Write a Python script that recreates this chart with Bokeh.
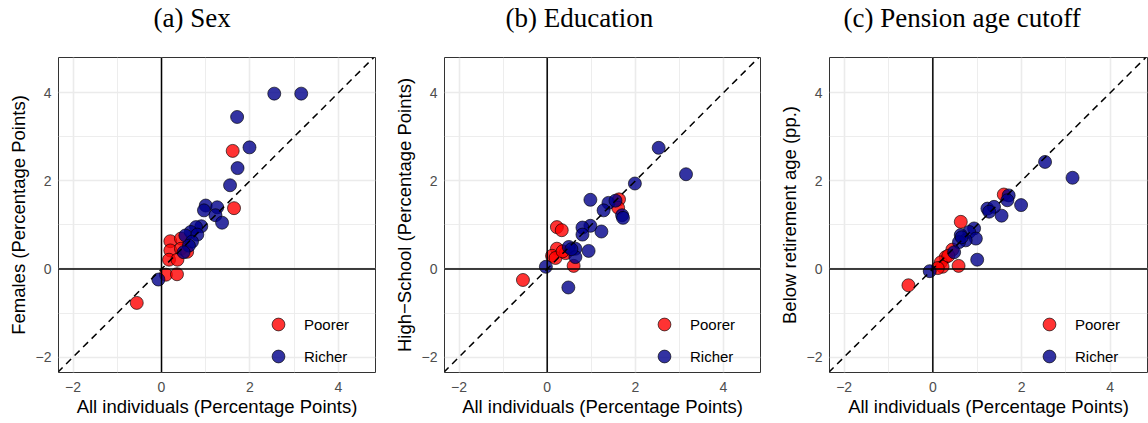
from bokeh.plotting import figure
from bokeh.layouts import row
from bokeh.models import (Span, Slope, Title, Legend, LegendItem, FixedTicker, Range1d)
from bokeh.embed import file_html
from bokeh.resources import INLINE

# ---------------- data ----------------
titles = ["(a) Sex", "(b) Education", "(c) Pension age cutoff"]
y_labels = ["Females (Percentage Points)", "High\u2212School (Percentage Points)", "Below retirement age (pp.)"]
x_label = "All individuals (Percentage Points)"
tick_values = [-2, 0, 2, 4]
tick_labels = ["\u22122", "0", "2", "4"]
minor_tick_values = [-1, 1, 3]
group_names = ["Poorer", "Richer"]

richer_a_x = [2.55, 3.16, 1.71, 1.99, 1.72, 1.55, 1.00, 1.26, 0.96, 1.22, 1.37, 0.90, 0.78, 0.66, 0.54, 0.81, 0.69, 0.62, 0.50, -0.07]
richer_a_y = [3.98, 3.98, 3.45, 2.76, 2.29, 1.90, 1.44, 1.40, 1.33, 1.22, 1.05, 0.97, 0.95, 0.84, 0.76, 0.78, 0.62, 0.53, 0.38, -0.24]
poorer_a_x = [1.61, 1.64, -0.56, 0.20, 0.44, 0.20, 0.44, 0.17, 0.36, 0.10, 0.35, 0.58]
poorer_a_y = [2.68, 1.38, -0.77, 0.63, 0.69, 0.42, 0.46, 0.21, 0.21, -0.13, -0.12, 0.39]

richer_b_x = [2.53, 3.15, 1.99, 0.98, 1.39, 1.55, 1.28, 1.70, 1.72, 1.23, 0.98, 0.80, 0.80, 0.94, 0.64, 0.49, 0.64, -0.03, 0.48, 0.55]
richer_b_y = [2.75, 2.15, 1.94, 1.57, 1.50, 1.55, 1.33, 1.22, 1.16, 0.85, 0.98, 0.94, 0.78, 0.41, 0.46, 0.50, 0.27, 0.05, -0.42, 0.45]
poorer_b_x = [1.63, 1.61, 0.22, 0.33, 0.22, 0.11, 0.19, 0.42, 0.60, -0.55, 0.35]
poorer_b_y = [1.58, 1.39, 0.95, 0.88, 0.46, 0.30, 0.25, 0.36, 0.07, -0.25, 0.40]

richer_c_x = [2.53, 3.15, 1.99, 1.55, 1.71, 1.68, 1.23, 1.38, 1.27, 0.93, 0.82, 0.97, 0.63, 0.74, 0.59, 0.48, 1.00, -0.07, 0.65]
richer_c_y = [2.43, 2.07, 1.45, 1.21, 1.67, 1.56, 1.37, 1.41, 1.30, 0.92, 0.84, 0.69, 0.77, 0.65, 0.61, 0.38, 0.21, -0.05, 0.72]
poorer_c_x = [1.60, 0.63, 0.44, 0.29, 0.18, 0.22, 0.11, 0.58, -0.55, 0.35]
poorer_c_y = [1.69, 1.07, 0.44, 0.27, 0.15, 0.05, 0.02, 0.07, -0.37, 0.30]

panels_data = [
    (poorer_a_x, poorer_a_y, richer_a_x, richer_a_y),
    (poorer_b_x, poorer_b_y, richer_b_x, richer_b_y),
    (poorer_c_x, poorer_c_y, richer_c_x, richer_c_y),
]

# ---------------- layout constants ----------------
layouts = [
    # fig width, left border, frame width, right border, title offset from frame left
    (383, 58, 317, 8, 95),
    (383, 61, 316, 6, 61),
    (382, 63, 318, 1, 14),
]
TOP, FRAME_H, BOTTOM = 57, 315, 51
X_RANGE = (-2.33, 4.84)
Y_RANGE = (-2.35, 4.80)
POORER_COLOR = "red"
RICHER_COLOR = "darkblue"

figs = []
for i, (lay, dat) in enumerate(zip(layouts, panels_data)):
    fw, left, frw, right, toff = lay
    px, py, rx, ry = dat
    p = figure(width=fw, height=TOP + FRAME_H + BOTTOM,
               frame_width=frw, frame_height=FRAME_H,
               min_border_left=left, min_border_right=right,
               min_border_top=TOP, min_border_bottom=BOTTOM,
               x_range=Range1d(*X_RANGE), y_range=Range1d(*Y_RANGE),
               output_backend="svg", toolbar_location=None,
               background_fill_color="white", border_fill_color="white")
    p.outline_line_color = "#333333"
    p.outline_line_width = 1

    ticker = FixedTicker(ticks=tick_values, minor_ticks=minor_tick_values)
    overrides = {v: lab for v, lab in zip(tick_values, tick_labels)}
    for ax in (p.xaxis[0], p.yaxis[0]):
        ax.ticker = ticker
        ax.major_label_overrides = overrides
        ax.axis_line_color = None
        ax.major_tick_line_color = None
        ax.minor_tick_line_color = None
        ax.major_tick_out = 0
        ax.major_tick_in = 0
        ax.minor_tick_out = 0
        ax.minor_tick_in = 0
        ax.major_label_text_color = "#4D4D4D"
        ax.major_label_text_font = "Liberation Sans"
        ax.major_label_text_font_size = "14px"
        ax.axis_label_text_font = "Liberation Sans"
        ax.axis_label_text_font_size = "18.5px"
        ax.axis_label_text_font_style = "normal"
        ax.axis_label_text_color = "black"
    p.xaxis[0].axis_label = x_label
    p.yaxis[0].axis_label = y_labels[i]
    p.xaxis[0].major_label_standoff = 9
    p.yaxis[0].major_label_standoff = 7
    p.xaxis[0].axis_label_standoff = 1
    p.yaxis[0].axis_label_standoff = 4

    for g in (p.xgrid[0], p.ygrid[0]):
        g.ticker = ticker
        g.grid_line_color = "#EBEBEB"
        g.grid_line_width = 1.6
        g.minor_grid_line_color = "#EBEBEB"
        g.minor_grid_line_width = 0.9

    r_poor = p.scatter(px, py, size=13, fill_color=POORER_COLOR, fill_alpha=0.8,
                       line_color="black", line_alpha=0.8, line_width=0.8)
    r_rich = p.scatter(rx, ry, size=13, fill_color=RICHER_COLOR, fill_alpha=0.8,
                       line_color="black", line_alpha=0.8, line_width=0.8)

    p.add_layout(Span(location=0, dimension="width", line_color="black", line_width=1.5))
    p.add_layout(Span(location=0, dimension="height", line_color="black", line_width=1.5))
    p.add_layout(Slope(gradient=1, y_intercept=0, line_color="black", line_width=1.5,
                       line_dash="7 5"))

    legend = Legend(items=[LegendItem(label=group_names[0], renderers=[r_poor]),
                           LegendItem(label=group_names[1], renderers=[r_rich])],
                    location=(203, 0), padding=0, margin=0, spacing=0,
                    glyph_width=34, glyph_height=32, label_standoff=9,
                    label_text_font="Liberation Sans", label_text_font_size="15px",
                    label_text_color="black",
                    background_fill_alpha=0, border_line_color=None)
    p.add_layout(legend)

    # spacer between frame and title, then the title itself
    p.add_layout(Title(text=" ", text_font_size="12px", standoff=9), "above")
    p.add_layout(Title(text=titles[i], align="left", offset=toff, standoff=0,
                       vertical_align="bottom",
                       text_font="Liberation Serif", text_font_size="27px",
                       text_font_style="normal", text_color="black"), "above")
    figs.append(p)

layout = row(*figs)
open("out.html", "w").write(file_html(layout, INLINE))
